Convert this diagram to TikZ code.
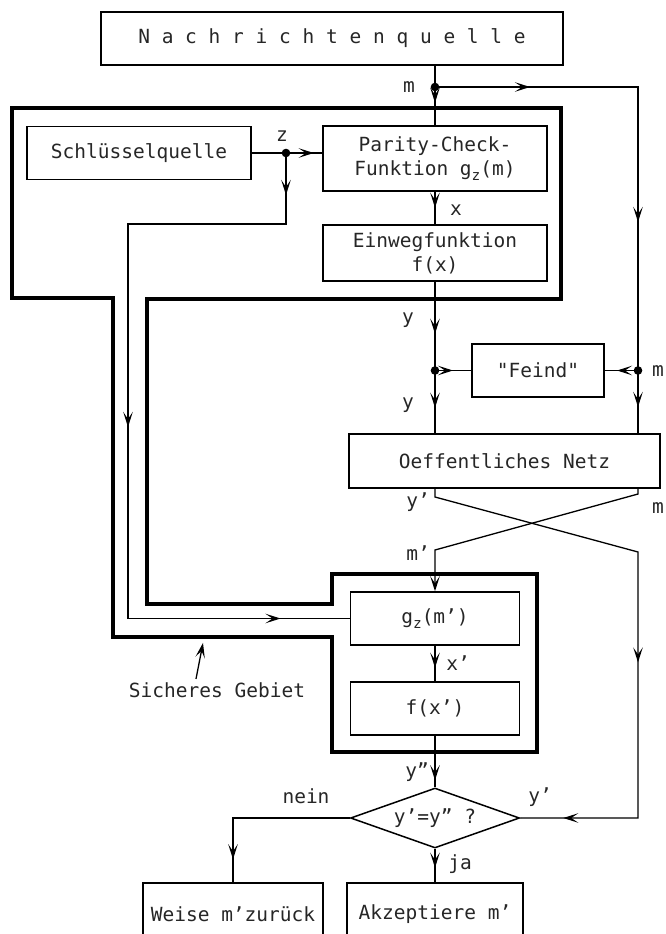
\documentclass[tikz,border=0pt]{standalone}
\usepackage{fontspec}
\setmainfont{DejaVu Sans Mono}[Ligatures=TeXOff]
\usetikzlibrary{arrows.meta,decorations.markings,shapes.geometric}
\newcommand{\gsubz}{g\raisebox{-.45ex}{\fontsize{14.5}{14.5}\selectfont z}}

\begin{document}
\begin{tikzpicture}[x=1pt,y=-1pt,>={Stealth[length=15pt,width=9.5pt,inset=7pt]}]
\tikzset{every node/.style={font=\fontsize{19.5}{24}\selectfont,text=black!85}}
\tikzset{box/.style={draw,line width=1.5pt,inner sep=0pt,align=center}}
\tikzset{wire/.style={line width=1.3pt}}
\tikzset{headat/.style={postaction={decorate,decoration={markings,mark=at position #1 with {\arrow{>}}}}}}
\tikzset{secure/.style={line width=3.8pt,line join=miter}}
%\tikzset{every node/.style={font=\ttfamily}}
\useasboundingbox (0,0) rectangle (665,934);
\clip (0,0) rectangle (665,934);

% boxes
\node[box,minimum width=462pt,minimum height=53pt] (src) at (332,38.5) {N a c h r i c h t e n q u e l l e};
\node[box,minimum width=224pt,minimum height=53pt] (key) at (139,153) {Schlüsselquelle};
\node[box,minimum width=224pt,minimum height=65pt] (pcf) at (435,158.5) {Parity-Check-\\Funktion \gsubz(m)};
\node[box,minimum width=224pt,minimum height=56pt] (owf) at (435,253) {Einwegfunktion\\ f(x)};
\node[box,minimum width=132pt,minimum height=53pt] (foe) at (538,370.5) {"Feind"};
\node[box,minimum width=311pt,minimum height=54pt] (net) at (504.5,461) {Oeffentliches Netz};
\node[box,minimum width=169pt,minimum height=53pt] (gz) at (435,618.5) {\gsubz(m’)};
\node[box,minimum width=169pt,minimum height=53pt] (fx) at (435,708.5) {f(x’)};
\node[box,diamond,aspect=2.8,minimum width=169pt,minimum height=60pt] (cmp) at (435,818) {y’=y” ?};
\node[box,minimum width=180pt,minimum height=62pt] (rej) at (233,914) {Weise m’zurück};
\node[box,minimum width=176pt,minimum height=62pt] (acc) at (435,914) {Akzeptiere m’};

% secure region
\draw[secure] (12,108) -- (561,108) -- (561,299) -- (147,299) -- (147,604) -- (332,604)
    -- (332,574) -- (537,574) -- (537,752) -- (332,752) -- (332,637) -- (113,637)
    -- (113,298) -- (12,298) -- cycle;
\node (safe) at (217,690) {Sicheres Gebiet};
\draw[wire,->] ([xshift=-21pt]safe.north) -- ++(7,-36);

% junctions
\coordinate (mdot) at (435,87);
\coordinate (mtop) at (638,87);
\coordinate (zdot) at (286,153);
\coordinate (zdn) at (286,224);
\coordinate (zlft) at (128,224);
\coordinate (ydot) at (435,370.5);
\coordinate (mdot2) at (638,370.5);
\coordinate (yo1) at (435,497);
\coordinate (yo2) at (638,552);
\coordinate (mo1) at (638,494);
\coordinate (mo2) at (435,550);

% connectors
\draw[wire,headat=37pt] (mdot |- src.south) -- (pcf.north);
\draw[wire,headat=95pt,headat=338pt,headat=523pt] (mdot) -- (mtop) -- (mtop |- net.north);
\draw[wire,headat=62pt] (key.east) -- (key.east -| pcf.west);
\draw[wire,headat=42pt,headat=432pt,headat=776pt] (zdot) -- (zdn) -- (zlft) -- (zlft |- gz.west) -- (gz.west);
\draw[wire,headat=16pt] (pcf.south) -- (owf.north);
\draw[wire,headat=52pt,headat=126pt] (owf.south) -- (owf.south |- net.north);
\draw[wire,headat=18pt] (ydot) -- (foe.west);
\draw[wire,headat=21pt] (mdot2) -- (foe.east);
\draw[wire,headat=329pt,headat=-43pt] (owf.south |- net.south) -- (yo1) -- (yo2) -- (yo2 |- cmp.east) -- (cmp.east);
\draw[wire,->] (mtop |- net.south) -- (mo1) -- (mo2) -- (gz.north);
\draw[wire,headat=22pt] (gz.south) -- (fx.north);
\draw[wire,headat=-7pt] (fx.south) -- (cmp.north);
\draw[wire,headat=19pt] (cmp.south) -- (acc.north);
\draw[wire,headat=-23pt] (cmp.west) -- (cmp.west -| rej.north) -- (rej.north);
\foreach \d in {mdot,zdot,ydot,mdot2}
    \fill (\d) circle (4.3pt);

% labels
\node (lm) at (409,87) {m};
\node (lz) at (282,136) {z};
\node (lx) at (456,210) {x};
\node (ly1) at (408,320) {y};
\node (ly2) at (408,405) {y};
\node (lm2) at (658,371) {m};
\node (lyp) at (418,502) {y’};
\node (lm3) at (658,508) {m};
\node (lmp) at (418,553) {m’};
\node (lxp) at (458,663) {x’};
\node (lypp) at (417,772) {y”};
\node (lno) at (306,796) {nein};
\node (lyp2) at (540,797) {y’};
\node (lyes) at (460,864) {ja};
\end{tikzpicture}
\end{document}
